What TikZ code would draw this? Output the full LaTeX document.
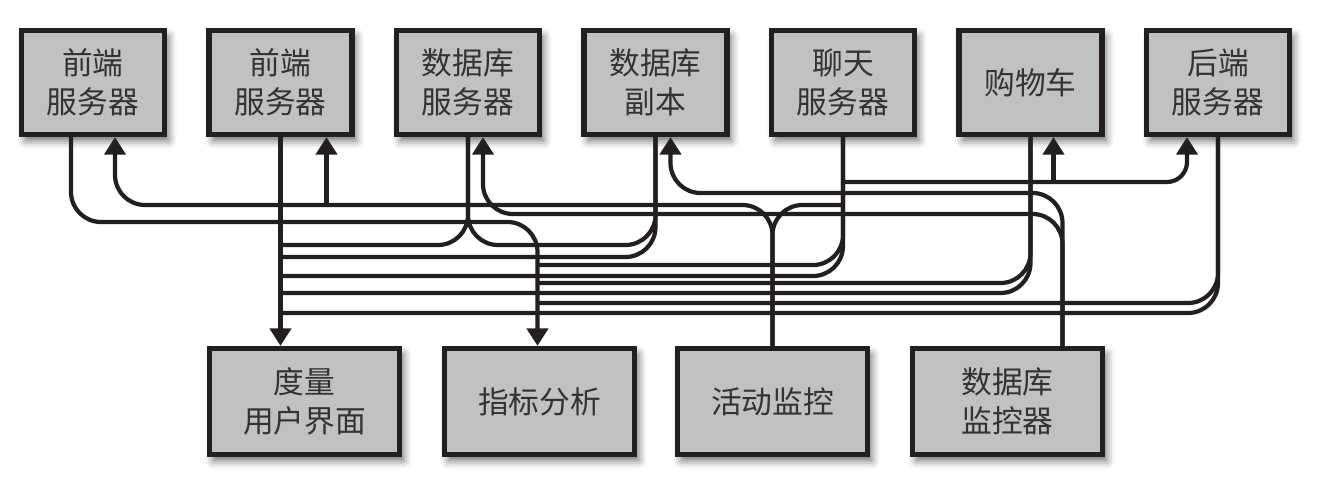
\documentclass[tikz,border=0pt]{standalone}
\usepackage{fontspec}
\newfontfamily\cjk{Noto Sans CJK SC}
\usetikzlibrary{arrows.meta,calc,shadows.blur}
\definecolor{boxgray}{RGB}{192,193,195}
\definecolor{ink}{RGB}{35,31,32}
\tikzset{
  srv/.style={draw=ink, line width=3pt, fill=boxgray, minimum width=2.86cm, minimum height=2.08cm,
    align=center, font=\cjk\fontsize{17.5}{22}\selectfont, text=black!80,
    blur shadow={shadow xshift=0.08cm, shadow yshift=-0.12cm, shadow blur radius=0.16cm, shadow opacity=60}},
  mon/.style={srv, minimum width=3.8cm, minimum height=2.12cm},
  wire/.style={draw=ink, line width=2.4pt, rounded corners=0.6cm},
  tip/.style={-{Triangle[width=12pt,length=10pt]}}
}
\begin{document}
\begin{tikzpicture}[x=0.02cm, y=-0.02cm]
\useasboundingbox (0,0) rectangle (1330,484);
\node[srv] (fe1) at (93,82.5) {前端\\服务器};
\node[srv] (fe2) at (280.5,82.5) {前端\\服务器};
\node[srv] (dbs) at (468,82.5) {数据库\\服务器};
\node[srv] (dbr) at (655.5,82.5) {数据库\\副本};
\node[srv] (chat) at (843,82.5) {聊天\\服务器};
\node[srv] (cart) at (1030.5,82.5) {购物车};
\node[srv] (be) at (1218,82.5) {后端\\服务器};
\node[mon] (mui) at (304.5,401.5) {度量\\用户界面};
\node[mon] (mana) at (539.5,401.5) {指标分析};
\node[mon] (act) at (772.5,401.5) {活动监控};
\node[mon] (dbm) at (1007.5,401.5) {数据库\\监控器};

\coordinate (mu) at ($(mui.north)+(-24,0)$);
\coordinate (ma) at ($(mana.north)+(-2,0)$);
\coordinate (fe1out) at ($(fe1.south)+(-22,0)$);
\coordinate (fe1in) at ($(fe1.south)+(22,0)$);
\coordinate (fe2in) at ($(fe2.south)+(46,0)$);
\coordinate (dbsin) at ($(dbs.south)+(15,0)$);
\coordinate (dbrin) at ($(dbr.south)+(15,0)$);
\coordinate (cartin) at ($(cart.south)+(23,0)$);
\coordinate (bein) at ($(be.south)+(-31,0)$);
\coordinate (dbmout) at ($(dbm.north)+(55,0)$);

\draw[wire,tip] (fe2.south) -- (mu);
\draw[wire,tip] (fe1out) |- (ma |- 0,222) -- (ma);
\draw[wire] (dbs.south) |- (mu |- 0,245);
\draw[wire] (dbr.south) |- (dbs.south |- 0,245) -- (dbs.south);
\draw[wire] (dbr.south) |- (mu |- 0,257);
\draw[wire] (chat.south) |- (ma |- 0,265);
\draw[wire] (chat.south) |- (mu |- 0,276);
\draw[wire] (cart.south) |- (ma |- 0,283);
\draw[wire] (cart.south) |- (mu |- 0,293);
\draw[wire] (be.south) |- (ma |- 0,303);
\draw[wire] (be.south) |- (mu |- 0,313);
\draw[wire,tip,rounded corners=0.4cm] (chat.south |- 0,182) -| (bein);
\draw[wire,tip] (cartin |- 0,182) -- (cartin);
\draw[wire,tip] (act.north) |- (fe1in |- 0,205) -- (fe1in);
\draw[wire] (act.north) |- (chat.south |- 0,205);
\draw[wire,tip] (fe2in |- 0,205) -- (fe2in);
\draw[wire,tip] (dbmout) |- (dbrin |- 0,193) -- (dbrin);
\draw[wire,tip] (dbmout) |- (dbsin |- 0,214) -- (dbsin);
\end{tikzpicture}
\end{document}
